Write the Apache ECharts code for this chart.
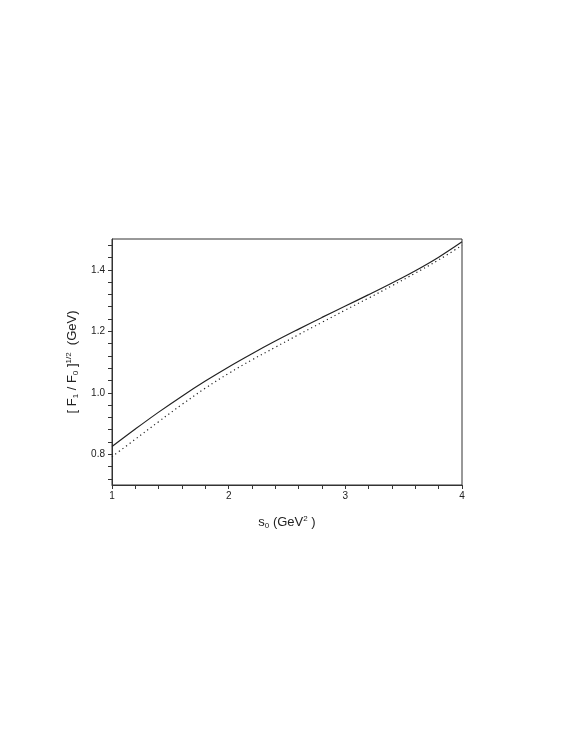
<!DOCTYPE html>
<html>
<head>
<meta charset="utf-8">
<script src="https://cdn.jsdelivr.net/npm/echarts@6/dist/echarts.min.js"></script>
<style>
	html, body { margin: 0; padding: 0; background: #fff; }
	#chart { width: 575px; height: 747px; }
</style>
</head>
<body>
<div id="chart"></div>
<script>
// s0 values (GeV^2)
const s0 = [1.0, 1.2, 1.4, 1.6, 1.8, 2.0, 2.2, 2.4, 2.6, 2.8, 3.0, 3.2, 3.4, 3.6, 3.8, 4.0]
// solid curve
const solidVals = [0.825, 0.882, 0.937, 0.989, 1.038, 1.084, 1.127, 1.168, 1.207, 1.245, 1.282, 1.319, 1.357, 1.397, 1.441, 1.491]
// dotted curve
const dottedVals = [0.792, 0.849, 0.906, 0.962, 1.015, 1.063, 1.107, 1.148, 1.189, 1.229, 1.269, 1.308, 1.348, 1.389, 1.432, 1.479]
const xTicks = [1, 2, 3, 4]
const yTicks = [0.8, 1.0, 1.2, 1.4]
const yMinorTicks = [0.72, 0.76, 0.8, 0.84, 0.88, 0.92, 0.96, 1.0, 1.04, 1.08, 1.12, 1.16, 1.2, 1.24, 1.28, 1.32, 1.36, 1.4, 1.44, 1.48]

const pairs = (xs, ys) => xs.map((x, i) => [x, ys[i]])
const near = (v, list) => list.some(t => Math.abs(v - t) < 1e-6)

const chart = echarts.init(document.getElementById('chart'))
const font = 'Liberation Sans, Arial, sans-serif'
const rich = {
	n: { fontSize: 13, fontFamily: font, color: '#222' },
	sub: { fontSize: 8, fontFamily: font, color: '#222', verticalAlign: 'bottom', padding: [7, 0, 0, 0] },
	sup: { fontSize: 8, fontFamily: font, color: '#222', verticalAlign: 'top', padding: [0, 0, 7, 0] },
}
const option = {
	animation: false,
	grid: {
		left: 112,
		right: 113,
		top: 239,
		bottom: 262,
		show: true,
		borderColor: '#333',
		borderWidth: 1,
	},
	xAxis: {
		type: 'value',
		min: 1,
		max: 4,
		interval: 0.2,
		name: '{n|s}{sub|0}{n| (GeV}{sup|2}{n| )}',
		nameLocation: 'middle',
		nameGap: 30,
		nameTextStyle: { rich },
		axisLine: { lineStyle: { color: '#333', width: 1 } },
		axisTick: { length: 4, lineStyle: { color: '#333' } },
		axisLabel: {
			fontSize: 10,
			fontFamily: font,
			color: '#222',
			margin: 6,
			formatter: v => (near(v, xTicks) ? String(Math.round(v)) : ''),
		},
		splitLine: { show: false },
	},
	yAxis: {
		type: 'value',
		min: 0.7,
		max: 1.5,
		name: '{n|[ F}{sub|1}{n| / F}{sub|0}{n| ]}{sup|1/2}{n|  (GeV)}',
		nameLocation: 'middle',
		nameGap: 32,
		nameRotate: 90,
		nameTextStyle: { rich },
		axisLine: { show: true, lineStyle: { color: '#333', width: 1 } },
		axisTick: { show: true, length: 4, customValues: yMinorTicks, lineStyle: { color: '#333' } },
		axisLabel: {
			fontSize: 10,
			fontFamily: font,
			color: '#222',
			margin: 7,
			customValues: yTicks,
			formatter: v => v.toFixed(1),
		},
		splitLine: { show: false },
	},
	series: [
		{
			name: 'solid',
			type: 'line',
			data: pairs(s0, solidVals),
			smooth: 0.4,
			symbol: 'none',
			lineStyle: { color: '#222', width: 1.2, type: 'solid' },
		},
		{
			name: 'dotted',
			type: 'line',
			data: pairs(s0, dottedVals),
			smooth: 0.4,
			symbol: 'none',
			lineStyle: { color: '#222', width: 1.2, type: [1.2, 3.2] },
		},
	],
}
chart.setOption(option)
</script>
</body>
</html>
